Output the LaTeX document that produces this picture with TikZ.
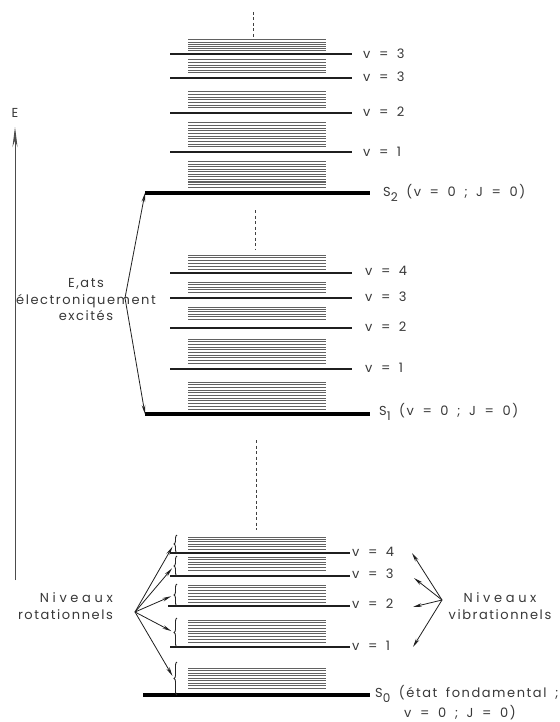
\documentclass[tikz,border=0pt]{standalone}
\usepackage{fontspec}
\setmainfont{Poppins}[LetterSpace=12,WordSpace=1.7]
\usetikzlibrary{arrows.meta,decorations.pathreplacing}
\newcommand\rband[3]{%
  \foreach \k in {0,...,#3}{%
    \pgfmathsetmacro\yy{#1+\k*(#2-#1)/#3}%
    \draw[rotline] (188,\yy) -- (326,\yy);}}
\newcommand\subs[1]{\raisebox{-0.4em}{\fontsize{12}{12}\selectfont #1}}
\newcommand\wide{\addfontfeatures{LetterSpace=28}}
\begin{document}
\begin{tikzpicture}[x=1pt,y=-1pt,
  txt/.style={font=\fontsize{13}{16.5}\selectfont, text=black!78, inner sep=1pt},
  rotline/.style={line width=1pt, black!62},
  vibline/.style={line width=1.5pt, black!88},
  elline/.style={line width=3.5pt, black},
  dashv/.style={line width=0.9pt, black!75, dash pattern=on 3pt off 2.5pt},
  arr/.style={line width=0.8pt, black!88, -{Stealth[length=9pt,width=3.6pt]}},
  brc/.style={line width=0.9pt, black!85, decorate, decoration={brace, amplitude=3pt}}]
\useasboundingbox (0,0) rectangle (559,722);

% energy axis
\coordinate (Ebot) at (15,580);
\coordinate (Etop) at (15,127);
\draw[line width=0.9pt, black!70, -{Stealth[length=20pt,width=5pt]}] (Ebot) -- (Etop);
\node[txt] (E) at (15,113) {E};

% ---------- S2 group ----------
\draw[dashv] (253,12) -- (253,38);
\rband{40}{51}{5}
\rband{60}{73}{5}
\rband{92}{108}{6}
\rband{123}{147}{9}
\rband{162}{187}{10}
\draw[vibline] (170,54) -- (352,54);
\draw[vibline] (170,78) -- (352,78);
\draw[vibline] (170,113) -- (352,113);
\draw[vibline] (170,152) -- (352,152);
\draw[elline] (145,193) coordinate (S2l) -- (370,193);
\node[txt, anchor=west] (a3) at (362,54) {v = 3};
\node[txt, anchor=west] (a3b) at (362,77) {v = 3};
\node[txt, anchor=west] (a2) at (362,112) {v = 2};
\node[txt, anchor=west] (a1) at (362,152) {v = 1};
\node[txt, anchor=west] (S2) at (382,193) {S\subs{2} (v = 0 ; J = 0)};

% ---------- S1 group ----------
\draw[dashv] (255,210) -- (255,250);
\rband{255}{269}{5}
\rband{282}{292}{4}
\rband{307}{319}{5}
\rband{339}{363}{9}
\rband{382}{409}{10}
\draw[vibline] (170,273) -- (352,273);
\draw[vibline] (170,298) -- (352,298);
\draw[vibline] (170,328) -- (352,328);
\draw[vibline] (170,369) -- (352,369);
\draw[elline] (145,414) coordinate (S1l) -- (370,414);
\node[txt, anchor=west] (b4) at (364,271) {v = 4};
\node[txt, anchor=west] (b3) at (364,297) {v = 3};
\node[txt, anchor=west] (b2) at (364,327) {v = 2};
\node[txt, anchor=west] (b1) at (364,368) {v = 1};
\node[txt, anchor=west] (S1) at (378,412) {S\subs{1} (v = 0 ; J = 0)};

% excited states label
\node[txt, align=center] (etats) at (86,300) {E,ats\\électroniquement\\excités};
\coordinate (eo) at (125,298);
\draw[arr] (eo) -- (S2l);
\draw[arr] (eo) -- (S1l);

% ---------- S0 group ----------
\draw[dashv] (256,440) -- (256,530);
\rband{537}{549}{5}
\rband{557}{570}{5}
\rband{585}{602}{6}
\rband{620}{642}{8}
\rband{668}{688}{8}
\draw[vibline] (170,553) -- (350,553) coordinate (c4);
\draw[vibline] (170,576) -- (350,576) coordinate (c3);
\draw[vibline] (168,606) -- (350,606) coordinate (c2);
\draw[vibline] (170,647) -- (350,647) coordinate (c1);
\draw[elline] (143,695) -- (370,695);
\node[txt, anchor=west] (d4) at (351,552) {v = 4};
\node[txt, anchor=west] (d3) at (351,574) {v = 3};
\node[txt, anchor=west] (d2) at (351,604) {v = 2};
\node[txt, anchor=west] (d1) at (351,646) {v = 1};
\node[txt, anchor=west] (S0) at (374,694) {S\subs{0} (état fondamental ;};
\node[txt] (S0b) at (460,713) {v = 0 ; J = 0)};

% braces (rotational levels)
\draw[brc] (177,553) -- (177,535) coordinate[pos=0.5] (r1);
\draw[brc] (177,576) -- (177,556) coordinate[pos=0.5] (r2);
\draw[brc] (177,606) -- (177,584) coordinate[pos=0.5] (r3);
\draw[brc] (177,647) -- (177,618) coordinate[pos=0.5] (r4);
\draw[brc] (177,695) -- (177,662) coordinate[pos=0.5] (r5);

\node[txt, align=right, anchor=east] (rot) at (114,606) {{\wide Niveaux}\\rotationnels};
\coordinate (ro) at (135,612);
\foreach \t in {r1,r2,r3,r4,r5}
  \draw[arr, shorten >=3pt] (ro) -- ([xshift=-3pt]\t);

\node[txt, align=center] (vib) at (500,606) {{\wide Niveaux}\\vibrationnels};
\coordinate (vo) at (442,600);
\coordinate (v4t) at (412,553);
\coordinate (v3t) at (414,578);
\coordinate (v2t) at (413,607);
\coordinate (v1t) at (413,647);
\foreach \t in {v4t,v3t,v2t,v1t}
  \draw[arr] (vo) -- (\t);
\end{tikzpicture}
\end{document}
